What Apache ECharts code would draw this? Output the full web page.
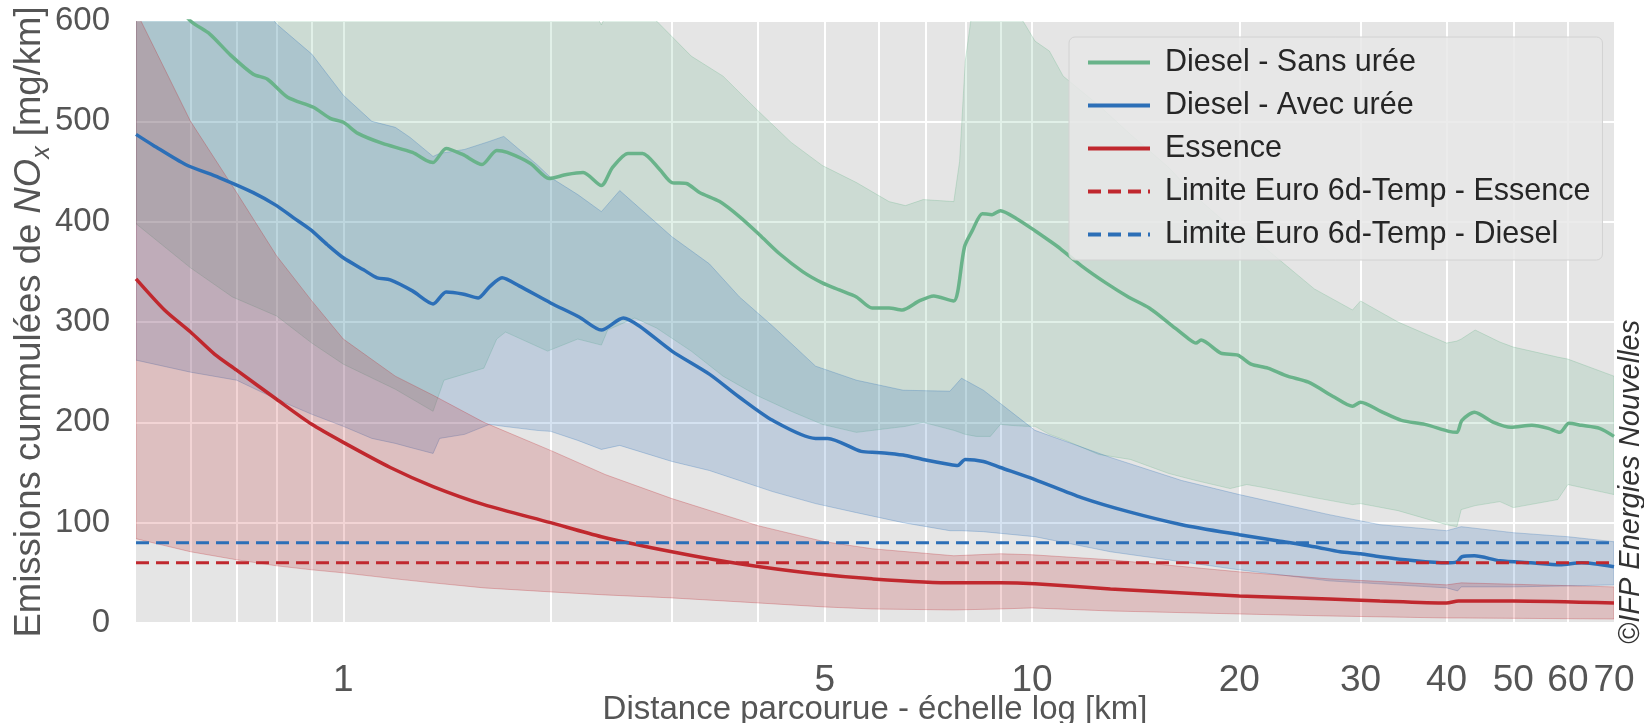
<!DOCTYPE html>
<html>
<head>
<meta charset="utf-8">
<script src="https://cdn.jsdelivr.net/npm/echarts@6/dist/echarts.min.js"></script>
<style>
  html, body { margin: 0; padding: 0; background: #ffffff; }
  #chart { width: 1644px; height: 723px; }
</style>
</head>
<body>
<div id="chart"></div>
<script>
// ---- Mean cumulative NOx curves [mg/km] vs distance [km] ----
const sansUreeDist = [0.5, 0.55, 0.6, 0.64, 0.686, 0.74, 0.776, 0.83, 0.905, 0.957, 1.0, 1.05, 1.14, 1.26, 1.32, 1.35, 1.41, 1.49, 1.59, 1.67, 1.73, 1.87, 1.99, 2.11, 2.23, 2.37, 2.46, 2.59, 2.72, 2.88, 3.0, 3.15, 3.29, 3.52, 3.76, 4.02, 4.3, 4.65, 4.96, 5.25, 5.56, 5.86, 6.2, 6.48, 6.86, 7.2, 7.7, 7.8, 7.98, 8.19, 8.47, 8.75, 9.0, 9.5, 10.1, 10.6, 11.0, 11.8, 12.8, 13.8, 14.8, 15.8, 16.9, 17.3, 17.6, 18.8, 19.9, 20.8, 22.0, 23.5, 25.2, 27.5, 29.2, 30.0, 32.1, 34.4, 37.2, 40.3, 41.4, 42.1, 43.9, 46.8, 49.6, 53.2, 56.2, 58.4, 60.2, 62.8, 66.7, 70];
const sansUreeMean = [665, 630, 600, 587, 566, 547, 542, 524, 514, 503, 499, 488, 478, 469, 461, 459, 473, 467, 457, 471, 469, 458, 443, 447, 449, 436, 454, 468, 468, 452, 439, 438, 429, 420, 405, 387, 368, 350, 339, 332, 325, 314, 314, 312, 321, 326, 321, 330, 375, 391, 408, 407, 411, 403, 391, 381, 373, 356, 339, 325, 314, 299, 283, 279, 282, 269, 267, 258, 254, 246, 240, 225, 216, 220, 211, 202, 198, 191, 190, 202, 210, 200, 195, 197, 194, 190, 199, 197, 194, 186];

const avecUreeDist = [0.5, 0.53, 0.59, 0.66, 0.74, 0.8, 0.846, 0.896, 0.948, 1.0, 1.07, 1.12, 1.17, 1.26, 1.35, 1.41, 1.49, 1.57, 1.63, 1.7, 1.8, 2.0, 2.2, 2.37, 2.55, 2.69, 3.0, 3.4, 3.76, 4.2, 4.85, 5.05, 5.65, 5.95, 6.2, 6.55, 6.95, 7.6, 7.8, 8.0, 8.5, 9.0, 10.1, 11.8, 13.8, 16.5, 20, 22.7, 25.7, 28, 30, 32, 36, 40, 41.4, 42.1, 43.9, 47.8, 53, 58.4, 62.8, 70];
const avecUreeMean = [487, 476, 457, 444, 429, 416, 404, 392, 377, 364, 352, 344, 342, 331, 318, 330, 328, 324, 335, 344, 336, 319, 305, 292, 304, 296, 271, 248, 225, 202, 184, 184, 171, 170, 169, 167, 163, 158, 157, 163, 161, 155, 143, 125, 111, 98, 88, 82, 76, 71, 69, 66, 62, 60, 61, 66, 67, 62, 60, 58, 60, 56];

const essenceDist = [0.5, 0.55, 0.6, 0.65, 0.7, 0.8, 0.9, 1.0, 1.17, 1.35, 1.6, 2.0, 2.37, 3.0, 3.76, 4.85, 5.86, 7.7, 9.0, 10.1, 13, 20, 27, 32, 40, 41.6, 50, 70];
const essenceMean = [343, 312, 290, 268, 252, 223, 198, 180, 155, 136, 118, 100, 86, 71, 59, 49, 44, 40, 40, 39, 34, 27, 24, 22, 20, 22, 22, 20];

// ---- Dispersion bands (lower / upper) ----
const sansUreeBandDist = [0.5, 0.6, 0.69, 0.8, 0.9, 1.0, 1.19, 1.35, 1.4, 1.6, 1.67, 1.72, 1.98, 2.19, 2.37, 2.42, 2.65, 2.85, 3.2, 3.56, 3.98, 4.47, 4.96, 5.56, 6.2, 6.55, 6.95, 7.7, 7.85, 8.0, 8.3, 8.7, 9.0, 9.3, 9.8, 10.1, 10.6, 11.1, 12.5, 13.9, 15.8, 17.3, 19.4, 20.5, 21.7, 25.7, 29.2, 30, 34, 40, 41.4, 42, 44, 47.8, 50, 58, 60, 70];
const sansUreeLow = [398, 354, 325, 306, 279, 258, 233, 211, 242, 254, 283, 290, 271, 283, 277, 292, 304, 294, 271, 246, 227, 211, 198, 190, 194, 196, 200, 192, 190, 188, 186, 186, 198, 197, 196, 196, 188, 183, 168, 163, 149, 142, 134, 138, 135, 125, 118, 119, 112, 98, 96, 113, 117, 121, 115, 123, 138, 128];
const sansUreeHigh = [700, 700, 700, 700, 700, 700, 700, 690, 690, 680, 680, 680, 660, 640, 596, 610, 620, 600, 565, 545, 512, 479, 456, 439, 420, 416, 422, 420, 460, 560, 640, 700, 700, 620, 595, 580, 570, 545, 516, 487, 454, 425, 395, 388, 375, 333, 312, 321, 300, 279, 281, 283, 292, 280, 275, 265, 263, 246];

const avecUreeBandDist = [0.5, 0.6, 0.7, 0.8, 0.9, 1.0, 1.1, 1.19, 1.25, 1.35, 1.38, 1.5, 1.63, 1.71, 1.91, 2.0, 2.19, 2.37, 2.52, 3.0, 3.4, 3.76, 4.2, 4.85, 5.56, 6.5, 7.6, 7.9, 8.5, 10.1, 13, 16.5, 20, 27, 32, 40, 41.5, 42, 50, 60, 70];
const avecUreeLow = [262, 250, 242, 223, 208, 196, 184, 179, 175, 169, 184, 188, 198, 196, 192, 191, 182, 173, 177, 161, 152, 142, 131, 119, 110, 100, 92, 92, 91, 86, 71, 61, 53, 42, 39, 35, 32, 36, 36, 37, 38];
const avecUreeHigh = [720, 690, 650, 597, 567, 526, 500, 494, 484, 465, 468, 472, 480, 485, 457, 444, 427, 410, 431, 385, 358, 325, 296, 256, 242, 232, 231, 244, 232, 192, 165, 142, 128, 108, 98, 92, 95, 96, 90, 86, 81];

const essenceBandDist = [0.5, 0.6, 0.7, 0.8, 0.9, 1.0, 1.19, 1.35, 1.6, 2.0, 2.4, 3.0, 4.0, 5.0, 5.86, 7.7, 9.0, 10, 13, 20, 27, 40, 42, 70];
const essenceLow = [84, 71, 63, 57, 53, 50, 44, 40, 35, 31, 28, 25, 20, 16, 14, 13, 14, 15, 12, 9, 7, 5, 5, 4];
const essenceHigh = [610, 500, 429, 366, 321, 283, 246, 227, 200, 172, 148, 124, 97, 81, 74, 67, 69, 68, 63, 51, 44, 38, 40, 36];

// ---- Euro 6d-Temp limits [mg/km] ----
const limitRange = [0.5, 70];
const limitEssence = 60;
const limitDiesel = 80;

// ---- Axis ticks ----
const xLabelValues = [1, 5, 10, 20, 30, 40, 50, 60, 70];
const xGridValues = [0.6, 0.7, 0.8, 0.9, 1, 2, 3, 4, 5, 6, 7, 8, 9, 10, 20, 30, 40, 50, 60];

const COLORS = {
  sansUree: '#69b38a',
  avecUree: '#2c6fb7',
  essence: '#c0282e'
};

const FONT = "'Liberation Sans', Arial, Helvetica, sans-serif";

function rgba(hex, a) {
  const n = parseInt(hex.slice(1), 16);
  return 'rgba(' + (n >> 16) + ',' + ((n >> 8) & 255) + ',' + (n & 255) + ',' + a + ')';
}

// Shaded band between a lower and an upper curve, drawn as one polygon
function bandSeries(id, dist, low, high, color) {
  return {
    id: id,
    type: 'custom',
    silent: true,
    clip: true,
    data: dist.map(function (d, i) { return [d, low[i], high[i]]; }),
    encode: { x: 0, y: [1, 2] },
    renderItem: function (params, api) {
      if (params.dataIndex !== 0) return null;
      const pts = [];
      for (let i = 0; i < dist.length; i++) pts.push(api.coord([dist[i], high[i]]));
      for (let i = dist.length - 1; i >= 0; i--) pts.push(api.coord([dist[i], low[i]]));
      return {
        type: 'polygon',
        shape: { points: pts },
        style: { fill: rgba(color, 0.2), stroke: rgba(color, 0.28), lineWidth: 1 }
      };
    },
    z: 1
  };
}

function meanSeries(name, dist, vals, color) {
  return {
    name: name,
    type: 'line',
    data: dist.map(function (d, i) { return [d, vals[i]]; }),
    showSymbol: false,
    symbol: 'none',
    smooth: 0.25,
    clip: true,
    lineStyle: { color: color, width: 3.5 },
    itemStyle: { color: color },
    z: 3
  };
}

function limitSeries(name, value, color) {
  return {
    name: name,
    type: 'line',
    data: limitRange.map(function (d) { return [d, value]; }),
    showSymbol: false,
    symbol: 'none',
    lineStyle: { color: color, width: 3, type: [13, 7] },
    itemStyle: { color: color },
    z: 3
  };
}

const chart = echarts.init(document.getElementById('chart'), null, { renderer: 'canvas' });

chart.setOption({
  animation: false,
  backgroundColor: '#ffffff',
  textStyle: { fontFamily: FONT },
  grid: {
    left: 136, right: 30, top: 21, bottom: 100,
    outerBoundsMode: 'none',
    containLabel: false,
    show: true, backgroundColor: '#e5e5e5', borderWidth: 0
  },
  xAxis: {
    type: 'log',
    logBase: 10,
    min: 0.5,
    max: 70,
    name: 'Distance parcourue - échelle log [km]',
    nameLocation: 'middle',
    nameMoveOverlap: false,
    nameGap: 70,
    nameTextStyle: { fontSize: 33, color: '#555555', fontFamily: FONT },
    axisLine: { show: false },
    axisTick: { show: false, customValues: xGridValues },
    axisLabel: {
      customValues: xLabelValues,
      fontSize: 37, color: '#555555', margin: 39, fontFamily: FONT,
      formatter: function (v) { return String(Math.round(v)); }
    },
    splitLine: { show: true, lineStyle: { color: '#ffffff', width: 2 } }
  },
  yAxis: {
    type: 'value',
    min: 0,
    max: 600,
    interval: 100,
    name: '{a|Emissions cummulées de }{i|NO}{s|x}{a| [mg/km]}',
    nameLocation: 'middle',
    nameMoveOverlap: false,
    nameRotate: 90,
    nameGap: 81,
    nameTextStyle: {
      color: '#555555',
      rich: {
        a: { fontSize: 36.5, color: '#555555', fontFamily: FONT, lineHeight: 40, verticalAlign: 'middle' },
        i: { fontSize: 36.5, color: '#555555', fontFamily: FONT, fontStyle: 'italic', lineHeight: 40, verticalAlign: 'middle' },
        s: { fontSize: 25, color: '#555555', fontFamily: FONT, fontStyle: 'italic', lineHeight: 50, verticalAlign: 'bottom' }
      }
    },
    axisLine: { show: false },
    axisTick: { show: false },
    axisLabel: { fontSize: 33, color: '#555555', margin: 26, fontFamily: FONT },
    splitLine: { show: true, lineStyle: { color: '#ffffff', width: 2 } }
  },
  legend: {
    orient: 'vertical',
    left: 1069,
    top: 37,
    data: ['Diesel - Sans urée', 'Diesel - Avec urée', 'Essence',
           'Limite Euro 6d-Temp - Essence', 'Limite Euro 6d-Temp - Diesel'],
    itemWidth: 62,
    itemHeight: 4,
    itemGap: 12,
    padding: [10, 12, 10, 17],
    backgroundColor: 'rgba(232,232,232,0.85)',
    borderColor: '#d2d2d2',
    borderWidth: 1,
    borderRadius: 6,
    itemStyle: { opacity: 0 },
    lineStyle: { width: 4 },
    textStyle: { fontSize: 30.5, color: '#262626', fontFamily: FONT, padding: [0, 0, 0, 10] },
    selectedMode: false
  },
  graphic: [{
    type: 'text',
    x: 1631,
    y: 482,
    rotation: Math.PI / 2,
    style: {
      text: '©IFP Energies Nouvelles',
      font: 'italic 29px ' + FONT,
      fill: '#333333',
      align: 'center',
      verticalAlign: 'middle'
    },
    z: 10
  }],
  series: [
    bandSeries('band-sans', sansUreeBandDist, sansUreeLow, sansUreeHigh, COLORS.sansUree),
    bandSeries('band-avec', avecUreeBandDist, avecUreeLow, avecUreeHigh, COLORS.avecUree),
    bandSeries('band-ess', essenceBandDist, essenceLow, essenceHigh, COLORS.essence),
    meanSeries('Diesel - Sans urée', sansUreeDist, sansUreeMean, COLORS.sansUree),
    meanSeries('Diesel - Avec urée', avecUreeDist, avecUreeMean, COLORS.avecUree),
    meanSeries('Essence', essenceDist, essenceMean, COLORS.essence),
    limitSeries('Limite Euro 6d-Temp - Essence', limitEssence, COLORS.essence),
    limitSeries('Limite Euro 6d-Temp - Diesel', limitDiesel, COLORS.avecUree)
  ]
});
</script>
</body>
</html>
